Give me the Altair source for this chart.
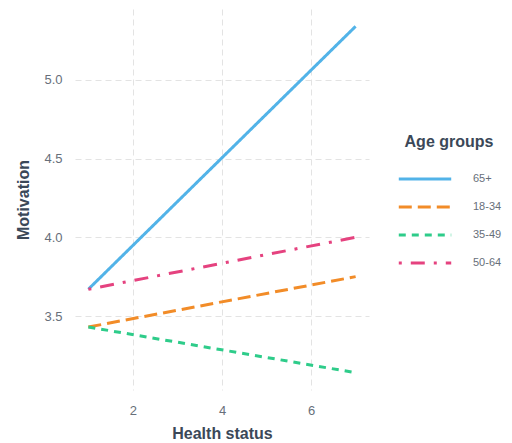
import altair as alt
import pandas as pd

groups = ["65+", "18-34", "35-49", "50-64"]
health_start = [1, 1, 1, 1]
health_end = [7, 7, 7, 7]
motivation_start = [3.67, 3.43, 3.43, 3.67]
motivation_end = [5.34, 3.75, 3.14, 4.00]
x_ticks = [2, 4, 6]
y_ticks = [3.5, 4.0, 4.5, 5.0]

colors = ["#52B3E8", "#F28C28", "#2ECC8A", "#E5427F"]
dashes = [[1, 0], [13, 6], [7, 6], [3, 9, 14, 9]]

rows = []
for g, x0, x1, y0, y1 in zip(groups, health_start, health_end, motivation_start, motivation_end):
    rows.append({"group": g, "health": x0, "motivation": y0})
    rows.append({"group": g, "health": x1, "motivation": y1})
df = pd.DataFrame(rows)

FONT = "Liberation Sans"
TITLE_C = "#3b4858"
LABEL_C = "#676f7a"
GRID_C = "#e3e3e3"

legend = alt.Legend(
    title="Age groups",
    orient="none",
    legendX=322,
    legendY=125,
    titleAnchor="middle",
    titleFont=FONT,
    titleFontSize=16,
    titleFontWeight="bold",
    titleColor=TITLE_C,
    titlePadding=22,
    labelFont=FONT,
    labelFontSize=11,
    labelColor=LABEL_C,
    labelOffset=20,
    labelLimit=200,
    symbolType="stroke",
    symbolSize=2750,
    symbolStrokeWidth=3,
    clipHeight=14,
    rowPadding=14,
    padding=0,
)

chart = alt.Chart(df).mark_line(strokeWidth=3, strokeCap="butt").encode(
    x=alt.X(
        "health:Q",
        scale=alt.Scale(domain=[0.7, 7.3], nice=False, zero=False),
        axis=alt.Axis(
            title="Health status",
            values=x_ticks,
            format="d",
            domain=False,
            ticks=False,
            grid=True,
            gridDash=[6, 4],
            gridColor=GRID_C,
            gridWidth=1,
            labelFont=FONT,
            labelFontSize=13,
            labelColor=LABEL_C,
            labelPadding=14,
            titleFont=FONT,
            titleFontSize=16,
            titleFontWeight="bold",
            titleColor=TITLE_C,
            titlePadding=8,
        ),
    ),
    y=alt.Y(
        "motivation:Q",
        scale=alt.Scale(domain=[3.03, 5.45], nice=False, zero=False),
        axis=alt.Axis(
            title="Motivation",
            values=y_ticks,
            format=".1f",
            domain=False,
            ticks=False,
            grid=True,
            gridDash=[6, 4],
            gridColor=GRID_C,
            gridWidth=1,
            labelFont=FONT,
            labelFontSize=13,
            labelColor=LABEL_C,
            labelPadding=13,
            titleFont=FONT,
            titleFontSize=16,
            titleFontWeight="bold",
            titleColor=TITLE_C,
            titlePadding=12,
        ),
    ),
    color=alt.Color(
        "group:N",
        scale=alt.Scale(domain=groups, range=colors),
        sort=groups,
        legend=legend,
    ),
    strokeDash=alt.StrokeDash(
        "group:N",
        scale=alt.Scale(domain=groups, range=dashes),
        sort=groups,
        legend=legend,
    ),
).properties(
    width=294,
    height=381,
    background="white",
    autosize=alt.AutoSizeParams(type="none"),
    padding={"left": 67, "top": 1, "right": 135, "bottom": 51},
).configure_view(stroke=None, strokeWidth=0)

chart.save("out.html", embed_options={"renderer": "svg", "actions": False})
